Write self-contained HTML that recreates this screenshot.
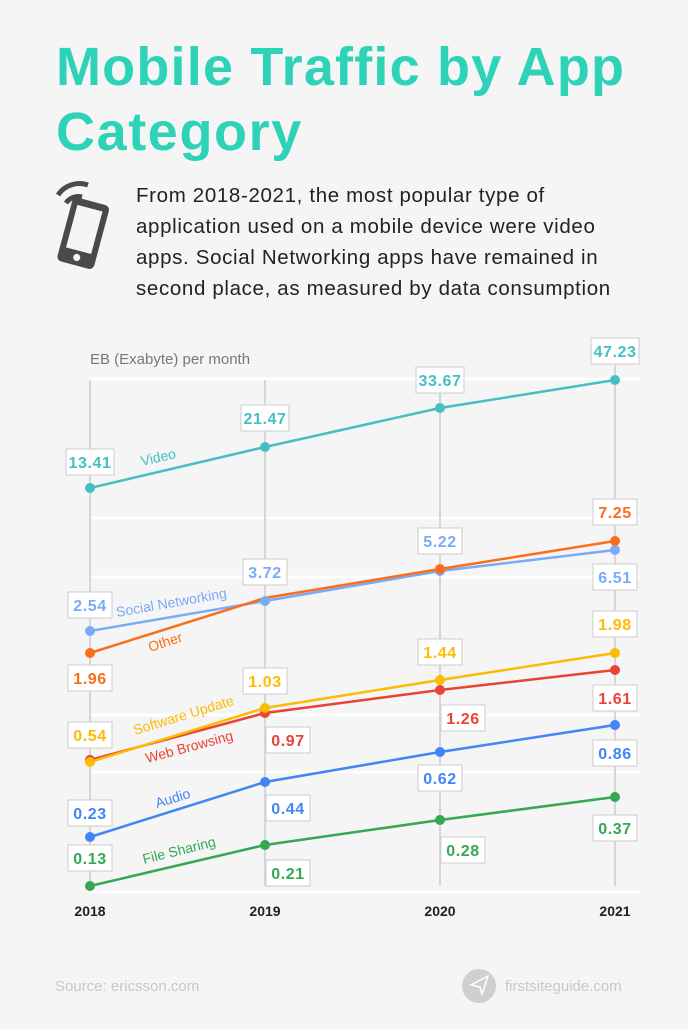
<!DOCTYPE html>
<html><head><meta charset="utf-8"><style>
body{margin:0;width:688px;height:1024px;background:#f5f5f5;overflow:hidden;font-family:"Liberation Sans",sans-serif}
</style></head><body>
<svg width="688" height="1024" xmlns="http://www.w3.org/2000/svg" font-family="Liberation Sans, sans-serif">
<text x="56" y="85" font-size="54" font-weight="bold" fill="#2ed3b7" letter-spacing="1.2">Mobile Traffic by App</text>
<text x="56" y="150" font-size="54" font-weight="bold" fill="#2ed3b7" letter-spacing="1.6">Category</text>
<g fill="#4a4a4a">
<path d="M58 195 A26 26 0 0 1 88 185" stroke="#4a4a4a" stroke-width="5" fill="none"/>
<path d="M66 203 A15 15 0 0 1 82 197" stroke="#4a4a4a" stroke-width="5" fill="none"/>
<g transform="rotate(15 82 234)"><rect x="64" y="200" width="38" height="66" rx="5"/><rect x="70" y="207" width="26" height="44" fill="#f5f5f5"/><circle cx="83" cy="258" r="3.5" fill="#f5f5f5"/></g>
</g>
<g font-size="20.5" fill="#222" letter-spacing="0.65">
<text x="136" y="202">From 2018-2021, the most popular type of</text>
<text x="136" y="233">application used on a mobile device were video</text>
<text x="136" y="264">apps. Social Networking apps have remained in</text>
<text x="136" y="295">second place, as measured by data consumption</text>
</g>
<text x="90" y="364" font-size="15" fill="#777">EB (Exabyte) per month</text>
<g stroke="#fff" stroke-width="2.5">
<line x1="90" y1="379" x2="640" y2="379"/><line x1="90" y1="518" x2="640" y2="518"/><line x1="90" y1="577" x2="640" y2="577"/><line x1="90" y1="715" x2="640" y2="715"/><line x1="90" y1="772" x2="640" y2="772"/><line x1="90" y1="892" x2="640" y2="892"/>
</g>
<g stroke="#d6d6d6" stroke-width="2">
<line x1="90" y1="380" x2="90" y2="886"/><line x1="265" y1="380" x2="265" y2="886"/><line x1="440" y1="380" x2="440" y2="886"/><line x1="615" y1="365" x2="615" y2="886"/>
</g>
<g fill="none" stroke-width="2.5">
<polyline stroke="#45bfc4" points="90,488 265,447 440,408 615,380"/>
<polyline stroke="#7baaf7" points="90,631 265,601 440,571 615,550"/>
<polyline stroke="#fa6d1b" points="90,653 265,598 440,569 615,541"/>
<polyline stroke="#ea4335" points="90,760 265,713 440,690 615,670"/>
<polyline stroke="#fbbc05" points="90,762 265,708 440,680 615,653"/>
<polyline stroke="#4285f4" points="90,837 265,782 440,752 615,725"/>
<polyline stroke="#34a853" points="90,886 265,845 440,820 615,797"/>
</g>
<g>
<g fill="#45bfc4"><circle cx="90" cy="488" r="5"/><circle cx="265" cy="447" r="5"/><circle cx="440" cy="408" r="5"/><circle cx="615" cy="380" r="5"/></g>
<g fill="#7baaf7"><circle cx="90" cy="631" r="5"/><circle cx="265" cy="601" r="5"/><circle cx="440" cy="571" r="5"/><circle cx="615" cy="550" r="5"/></g>
<g fill="#fa6d1b"><circle cx="90" cy="653" r="5"/><circle cx="440" cy="569" r="5"/><circle cx="615" cy="541" r="5"/></g>
<g fill="#ea4335"><circle cx="90" cy="760" r="5"/><circle cx="265" cy="713" r="5"/><circle cx="440" cy="690" r="5"/><circle cx="615" cy="670" r="5"/></g>
<g fill="#fbbc05"><circle cx="90" cy="762" r="5"/><circle cx="265" cy="708" r="5"/><circle cx="440" cy="680" r="5"/><circle cx="615" cy="653" r="5"/></g>
<g fill="#4285f4"><circle cx="90" cy="837" r="5"/><circle cx="265" cy="782" r="5"/><circle cx="440" cy="752" r="5"/><circle cx="615" cy="725" r="5"/></g>
<g fill="#34a853"><circle cx="90" cy="886" r="5"/><circle cx="265" cy="845" r="5"/><circle cx="440" cy="820" r="5"/><circle cx="615" cy="797" r="5"/></g>
</g>
<g font-size="16" font-weight="bold" text-anchor="middle" stroke-width="1" letter-spacing="0.6">
<g fill="#fff" stroke="#ccc">
<rect x="66" y="449" width="48" height="26"/><rect x="241" y="405" width="48" height="26"/><rect x="416" y="367" width="48" height="26"/><rect x="591" y="338" width="48" height="26"/>
<rect x="68" y="592" width="44" height="26"/><rect x="243" y="559" width="44" height="26"/><rect x="418" y="528" width="44" height="26"/><rect x="593" y="499" width="44" height="26"/><rect x="593" y="564" width="44" height="26"/>
<rect x="68" y="665" width="44" height="26"/><rect x="243" y="668" width="44" height="26"/><rect x="418" y="639" width="44" height="26"/><rect x="593" y="611" width="44" height="26"/>
<rect x="68" y="722" width="44" height="26"/><rect x="266" y="727" width="44" height="26"/><rect x="441" y="705" width="44" height="26"/><rect x="593" y="685" width="44" height="26"/>
<rect x="68" y="800" width="44" height="26"/><rect x="266" y="795" width="44" height="26"/><rect x="418" y="765" width="44" height="26"/><rect x="593" y="740" width="44" height="26"/>
<rect x="68" y="845" width="44" height="26"/><rect x="266" y="860" width="44" height="26"/><rect x="441" y="837" width="44" height="26"/><rect x="593" y="815" width="44" height="26"/>
</g>
<text x="90" y="468" fill="#45bfc4">13.41</text><text x="265" y="424" fill="#45bfc4">21.47</text><text x="440" y="386" fill="#45bfc4">33.67</text><text x="615" y="357" fill="#45bfc4">47.23</text>
<text x="90" y="611" fill="#7baaf7">2.54</text><text x="265" y="578" fill="#7baaf7">3.72</text><text x="440" y="547" fill="#7baaf7">5.22</text><text x="615" y="518" fill="#fa6d1b">7.25</text><text x="615" y="583" fill="#7baaf7">6.51</text>
<text x="90" y="684" fill="#fa6d1b">1.96</text><text x="265" y="687" fill="#fbbc05">1.03</text><text x="440" y="658" fill="#fbbc05">1.44</text><text x="615" y="630" fill="#fbbc05">1.98</text>
<text x="90" y="741" fill="#fbbc05">0.54</text><text x="288" y="746" fill="#ea4335">0.97</text><text x="463" y="724" fill="#ea4335">1.26</text><text x="615" y="704" fill="#ea4335">1.61</text>
<text x="90" y="819" fill="#4285f4">0.23</text><text x="288" y="814" fill="#4285f4">0.44</text><text x="440" y="784" fill="#4285f4">0.62</text><text x="615" y="759" fill="#4285f4">0.86</text>
<text x="90" y="864" fill="#34a853">0.13</text><text x="288" y="879" fill="#34a853">0.21</text><text x="463" y="856" fill="#34a853">0.28</text><text x="615" y="834" fill="#34a853">0.37</text>
</g>
<g font-size="14">
<text x="142" y="466" fill="#45bfc4" transform="rotate(-13 142 466)">Video</text>
<text x="117" y="617" fill="#7baaf7" transform="rotate(-10 117 617)">Social Networking</text>
<text x="150" y="652" fill="#fa6d1b" transform="rotate(-18 150 652)">Other</text>
<text x="135" y="735" fill="#fbbc05" transform="rotate(-17 135 735)">Software Update</text>
<text x="147" y="763" fill="#ea4335" transform="rotate(-15 147 763)">Web Browsing</text>
<text x="157" y="808" fill="#4285f4" transform="rotate(-17 157 808)">Audio</text>
<text x="144" y="864" fill="#34a853" transform="rotate(-14 144 864)">File Sharing</text>
</g>
<g font-size="14" font-weight="bold" fill="#222" text-anchor="middle">
<text x="90" y="916">2018</text><text x="265" y="916">2019</text><text x="440" y="916">2020</text><text x="615" y="916">2021</text>
</g>
<text x="55" y="991" font-size="15" fill="#c8c8c8">Source: ericsson.com</text>
<circle cx="479" cy="986" r="17" fill="#cfcfcf"/>
<path d="M471 985 L488 976 L482 994 L480 987 Z" fill="none" stroke="#fff" stroke-width="1.5"/>
<text x="505" y="991" font-size="15" fill="#c8c8c8">firstsiteguide.com</text>
</svg>
</body></html>
